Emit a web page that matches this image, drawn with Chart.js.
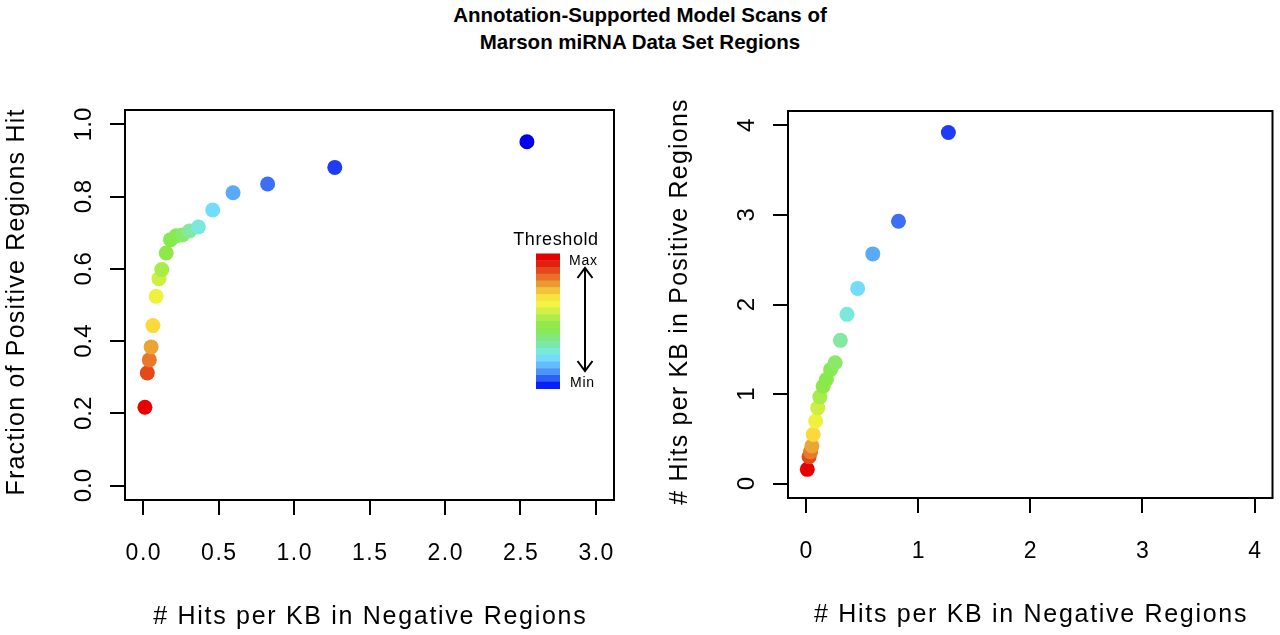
<!DOCTYPE html>
<html>
<head>
<meta charset="utf-8">
<script src="https://cdn.jsdelivr.net/npm/chart.js@4.4.1/dist/chart.umd.min.js"></script>
<style>
  html, body { margin: 0; padding: 0; background: #fff; overflow: hidden; }
  #wrap { position: relative; width: 1280px; height: 635px; }
  #title { position: absolute; left: 0; top: 2px; width: 1280px; text-align: center;
           font: bold 20.5px "Liberation Sans", Arial, sans-serif; line-height: 26.5px; color: #000; }
  canvas { position: absolute; top: 0; }
  #c1 { left: 0; }
  #c2 { left: 640px; }
</style>
</head>
<body>
<div id="wrap">
  <div id="title">Annotation-Supported Model Scans of<br>Marson miRNA Data Set Regions</div>
  <canvas id="c1" width="640" height="635"></canvas>
  <canvas id="c2" width="640" height="635"></canvas>
</div>
<script>
// ---- data ----
const hitsNegKB   = [0.012, 0.028, 0.041, 0.053, 0.065, 0.086, 0.105, 0.124, 0.153, 0.182, 0.22, 0.26, 0.307, 0.366, 0.461, 0.596, 0.825, 1.27, 2.543];
const fracPosHit  = [0.217, 0.312, 0.348, 0.384, 0.443, 0.524, 0.573, 0.598, 0.644, 0.681, 0.692, 0.694, 0.705, 0.716, 0.763, 0.811, 0.835, 0.881, 0.952];
const hitsPosKB   = [0.16, 0.30, 0.355, 0.42, 0.55, 0.70, 0.846, 0.969, 1.088, 1.163, 1.275, 1.35, 1.60, 1.89, 2.18, 2.565, 2.93, 3.92];
const pointColors = ['#e60000', '#e34a18', '#e8782a', '#eaa535', '#fcd93a', '#eef23c', '#cdf040', '#a8ec48', '#8ee84a',
                     '#86ea4a', '#86eb52', '#8ae86a', '#84e8a0', '#7ae8dc', '#72dcfa', '#5aaafa', '#3c6efa', '#1e3cf5', '#0000eb'];
const legendColors = ['#e60000', '#e22010', '#e5481c', '#e87028', '#eb9a32', '#f2c23a', '#fae23e', '#f2f444', '#d2f046', '#aeec48',
                      '#92ea4a', '#88ea5a', '#80e87e', '#7ae8aa', '#78eadc', '#74dcfa', '#64bcfa', '#4c94fa', '#2c60fa', '#0a1efa'];
const xTicksLeft  = [0, 0.5, 1, 1.5, 2, 2.5, 3];
const yTicksLeft  = [0, 0.2, 0.4, 0.6, 0.8, 1.0];
const xTicksRight = [0, 1, 2, 3, 4];
const yTicksRight = [0, 1, 2, 3, 4];
const xTitle = '# Hits per KB in Negative Regions';
const yTitleLeft = 'Fraction of Positive Regions Hit';
const yTitleRight = '# Hits per KB in Positive Regions';
const legendTitle = 'Threshold';

const FONT = '"Liberation Sans", Arial, sans-serif';

function axisTextPlugin(cfg) {
  return {
    id: 'axisText',
    afterDraw(chart) {
      const ctx = chart.ctx, a = chart.chartArea;
      const xs = chart.scales.x, ys = chart.scales.y;
      ctx.save();
      ctx.strokeStyle = '#000';
      ctx.lineWidth = 2;
      ctx.strokeRect(a.left, a.top, a.right - a.left, a.bottom - a.top);
      ctx.fillStyle = '#000';
      // x tick labels
      ctx.font = '23px ' + FONT;
      ctx.letterSpacing = '1.5px';
      ctx.textAlign = 'center';
      ctx.textBaseline = 'alphabetic';
      xs.ticks.forEach(t => ctx.fillText(cfg.xfmt(t.value), xs.getPixelForValue(t.value) + 0.75, a.bottom + 60));
      // y tick labels (rotated, R style)
      ctx.font = '24px ' + FONT;
      ctx.letterSpacing = '0px';
      ys.ticks.forEach(t => {
        ctx.save();
        ctx.translate(a.left - 34, ys.getPixelForValue(t.value));
        ctx.rotate(-Math.PI / 2);
        ctx.fillText(cfg.yfmt(t.value), 0, 0);
        ctx.restore();
      });
      // axis titles
      ctx.font = '25px ' + FONT;
      ctx.letterSpacing = '1.7px';
      ctx.fillText(cfg.xTitle, (a.left + a.right) / 2 + 0.85, a.bottom + 124);
      ctx.save();
      ctx.letterSpacing = '1.2px';
      ctx.translate(a.left - 101, (a.top + a.bottom) / 2 - 3);
      ctx.rotate(-Math.PI / 2);
      ctx.fillText(cfg.yTitle, 0, 0);
      ctx.restore();
      ctx.restore();
    }
  };
}

const legendPlugin = {
  id: 'thresholdLegend',
  afterDraw(chart) {
    const ctx = chart.ctx;
    ctx.save();
    const bx = 536, bw = 24, by = 253.5, bh = 135;
    const step = bh / legendColors.length;
    legendColors.forEach((c, i) => {
      ctx.fillStyle = c;
      ctx.fillRect(bx, by + i * step, bw, step + 0.5);
    });
    ctx.fillStyle = '#000';
    ctx.textBaseline = 'alphabetic';
    ctx.textAlign = 'center';
    ctx.font = '18px ' + FONT;
    ctx.letterSpacing = '0.6px';
    ctx.fillText(legendTitle, 556, 245);
    ctx.textAlign = 'left';
    ctx.font = '14px ' + FONT;
    ctx.letterSpacing = '0.8px';
    ctx.fillText('Max', 569, 265);
    ctx.fillText('Min', 570, 387);
    // double arrow
    ctx.strokeStyle = '#000';
    ctx.lineWidth = 2;
    ctx.beginPath();
    ctx.moveTo(585, 268); ctx.lineTo(585, 371);
    ctx.moveTo(577.5, 278); ctx.lineTo(585, 268); ctx.lineTo(592.5, 278);
    ctx.moveTo(577.5, 361); ctx.lineTo(585, 371); ctx.lineTo(592.5, 361);
    ctx.stroke();
    ctx.restore();
  }
};

function makeScale(min, max, ticks, fitProp, fitVal) {
  return {
    type: 'linear',
    min: min, max: max,
    afterBuildTicks: s => { s.ticks = ticks.map(v => ({ value: v })); },
    afterFit: s => { s[fitProp] = fitVal; },
    ticks: { display: false },
    grid: { display: true, drawOnChartArea: false, drawTicks: true, tickLength: 15, color: '#000', lineWidth: 2 },
    border: { display: false }
  };
}

function makeChart(id, xs, ys, pad, xScale, yScale, cfg, extraPlugins) {
  const pts = ys.map((y, i) => ({ x: xs[i], y: y }));
  return new Chart(document.getElementById(id), {
    type: 'scatter',
    data: {
      datasets: [{
        data: pts,
        pointRadius: 7.5,
        pointHoverRadius: 7.5,
        pointBorderWidth: 0,
        pointBackgroundColor: pointColors.slice(0, pts.length),
        pointBorderColor: pointColors.slice(0, pts.length)
      }]
    },
    options: {
      responsive: false,
      animation: false,
      events: [],
      layout: { padding: pad },
      plugins: { legend: { display: false }, tooltip: { enabled: false }, title: { display: false } },
      scales: { x: xScale, y: yScale }
    },
    plugins: [axisTextPlugin(cfg)].concat(extraPlugins)
  });
}

makeChart('c1', hitsNegKB, fracPosHit,
  { left: 0, right: 26, top: 110, bottom: 0 },
  makeScale(-0.12, 3.12, xTicksLeft, 'height', 135),
  makeScale(-0.04, 1.04, yTicksLeft, 'width', 125),
  { xfmt: v => v.toFixed(1), yfmt: v => v.toFixed(1), xTitle: xTitle, yTitle: yTitleLeft },
  [legendPlugin]);

makeChart('c2', hitsNegKB.slice(0, hitsPosKB.length), hitsPosKB,
  { left: 0, right: 5, top: 111, bottom: 0 },
  makeScale(-0.16, 4.16, xTicksRight, 'height', 137),
  makeScale(-0.16, 4.16, yTicksRight, 'width', 148),
  { xfmt: v => String(v), yfmt: v => String(v), xTitle: xTitle, yTitle: yTitleRight },
  []);
</script>
</body>
</html>
